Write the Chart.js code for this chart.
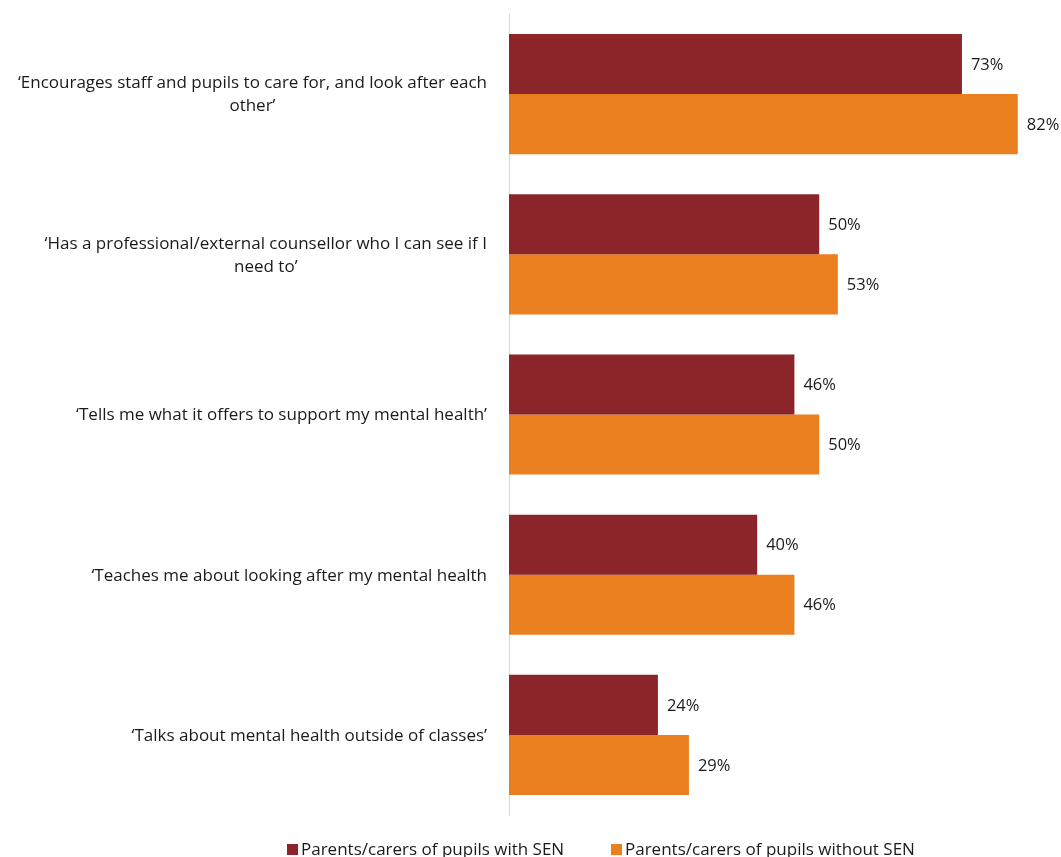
<!DOCTYPE html>
<html>
<head>
<meta charset="utf-8">
<script src="https://cdn.jsdelivr.net/npm/chart.js@4/dist/chart.umd.min.js"></script>
<style>
html,body{margin:0;padding:0;background:#fff;overflow:hidden;}
#wrap{width:1061px;height:857px;position:relative;}
</style>
</head>
<body>
<div id="wrap"><canvas id="c" width="1061" height="857"></canvas></div>
<script>
const categories = [
  ["‘Encourages staff and pupils to care for, and look after each", "other’"],
  ["‘Has a professional/external counsellor who I can see if I", "need to’"],
  ["‘Tells me what it offers to support my mental health’"],
  ["‘Teaches me about looking after my mental health"],
  ["‘Talks about mental health outside of classes’"]
];
const seriesNames = ["Parents/carers of pupils with SEN", "Parents/carers of pupils without SEN"];
const withSEN = [73, 50, 46, 40, 24];
const withoutSEN = [82, 53, 50, 46, 29];
const colors = ["#8B2529", "#E97F1F"];

const FONT = "'Open Sans', sans-serif";

const valueLabels = {
  id: 'valueLabels',
  afterDatasetsDraw(chart) {
    const ctx = chart.ctx;
    ctx.save();
    ctx.font = "16.5px " + FONT;
    ctx.fillStyle = "#1a1a1a";
    ctx.textAlign = "left";
    ctx.textBaseline = "middle";
    chart.data.datasets.forEach((ds, i) => {
      chart.getDatasetMeta(i).data.forEach((bar, j) => {
        ctx.fillText(ds.data[j] + "%", bar.x + 9, bar.y + 1);
      });
    });
    ctx.restore();
  }
};

// Category labels: each block right-aligned to the axis, lines centred within block
const categoryLabels = {
  id: 'categoryLabels',
  afterDraw(chart) {
    const ctx = chart.ctx;
    const yScale = chart.scales.y;
    ctx.save();
    ctx.font = "17px " + FONT;
    ctx.fillStyle = "#1a1a1a";
    ctx.textAlign = "center";
    ctx.textBaseline = "middle";
    const right = yScale.right - 22;
    const lh = 23;
    chart.data.labels.forEach((lines, i) => {
      const yc = yScale.getPixelForValue(i);
      const maxW = Math.max(...lines.map(l => ctx.measureText(l).width));
      const cx = right - maxW / 2;
      const y0 = yc - (lines.length - 1) * lh / 2;
      lines.forEach((l, k) => ctx.fillText(l, cx, y0 + k * lh + 1));
    });
    ctx.restore();
  }
};

const customLegend = {
  id: 'customLegend',
  afterDraw(chart) {
    const ctx = chart.ctx;
    ctx.save();
    ctx.font = "17px " + FONT;
    ctx.textBaseline = "middle";
    ctx.textAlign = "left";
    const y = 849;
    const xs = [287, 611];
    chart.data.datasets.forEach((ds, i) => {
      ctx.fillStyle = ds.backgroundColor;
      ctx.fillRect(xs[i], y - 5, 11, 11);
      ctx.fillStyle = "#1a1a1a";
      ctx.fillText(ds.label, xs[i] + 14, y + 1);
    });
    ctx.restore();
  }
};

new Chart(document.getElementById('c'), {
  type: 'bar',
  data: {
    labels: categories,
    datasets: [
      { label: seriesNames[0], data: withSEN, backgroundColor: colors[0] },
      { label: seriesNames[1], data: withoutSEN, backgroundColor: colors[1] }
    ]
  },
  options: {
    indexAxis: 'y',
    responsive: false,
    animation: false,
    devicePixelRatio: 1,
    layout: { padding: { top: 14, bottom: 42, left: 0, right: 6 } },
    datasets: { bar: { categoryPercentage: 0.75, barPercentage: 1.0, borderWidth: 0 } },
    plugins: {
      legend: { display: false },
      tooltip: { enabled: false }
    },
    scales: {
      x: {
        display: false,
        min: 0,
        max: 88
      },
      y: {
        grid: { display: false, drawTicks: false },
        border: { display: true, color: '#d9d9d9', width: 1 },
        ticks: { display: false },
        afterFit(scale) {
          scale.width = 509;
          scale.paddingTop = 0;
          scale.paddingBottom = 0;
        }
      }
    }
  },
  plugins: [valueLabels, categoryLabels, customLegend]
});
</script>
</body>
</html>
